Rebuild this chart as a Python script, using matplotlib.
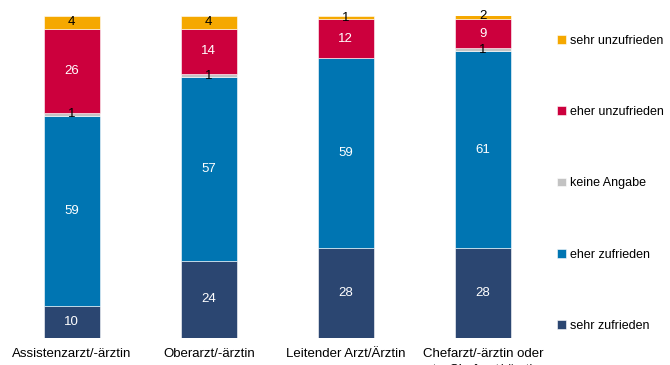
import numpy as np
import matplotlib
matplotlib.use('Agg')
import matplotlib.pyplot as plt

# data
groups = ['Assistenzarzt/-ärztin', 'Oberarzt/-ärztin', 'Leitender Arzt/Ärztin',
          'Chefarzt/-ärztin oder\nstv. Chefarzt/-ärztin']
categories = ['sehr zufrieden', 'eher zufrieden', 'keine Angabe',
              'eher unzufrieden', 'sehr unzufrieden']
sehr_zufrieden = [10, 24, 28, 28]
eher_zufrieden = [59, 57, 59, 61]
keine_angabe = [1, 1, 0, 1]
eher_unzufrieden = [26, 14, 12, 9]
sehr_unzufrieden = [4, 4, 1, 2]

colors = ['#2B4671', '#0075B2', '#C3C3C3', '#CC003D', '#F5A800']
text_colors = ['white', 'white', 'black', 'white', 'black']

series = [sehr_zufrieden, eher_zufrieden, keine_angabe, eher_unzufrieden, sehr_unzufrieden]

plt.rcParams['font.family'] = ['Liberation Sans', 'DejaVu Sans']

fig = plt.figure(figsize=(6.7, 3.65), dpi=100)
ax = fig.add_axes([0.005, 0.074, 0.818, 0.882])

x = np.arange(len(groups))
bottom = np.zeros(len(groups))
handles = []
for vals, col, tc, name in zip(series, colors, text_colors, categories):
    vals = np.array(vals, dtype=float)
    b = ax.bar(x, vals, width=0.41, bottom=bottom, color=col,
               edgecolor='white', linewidth=0.4, label=name)
    handles.append(b)
    for xi, v, bt in zip(x, vals, bottom):
        if v > 0:
            ax.text(xi, bt + v / 2, '%d' % v, ha='center', va='center',
                    color=tc, fontsize=9.5)
    bottom += vals

ax.set_xlim(-0.5, 3.5)
ax.set_ylim(0, 100)
ax.set_xticks(x)
ax.set_xticklabels(groups, fontsize=9.5, va='top', linespacing=1.5)
ax.tick_params(axis='x', length=0, pad=7)
ax.set_yticks([])
for s in ax.spines.values():
    s.set_visible(False)

leg = fig.legend(handles[::-1], categories[::-1], loc='upper left',
                 bbox_to_anchor=(0.815, 0.936), frameon=False, fontsize=9,
                 handlelength=0.7, handleheight=0.7, handletextpad=0.3,
                 labelspacing=4.75)

fig.savefig('out.png', dpi=100)
